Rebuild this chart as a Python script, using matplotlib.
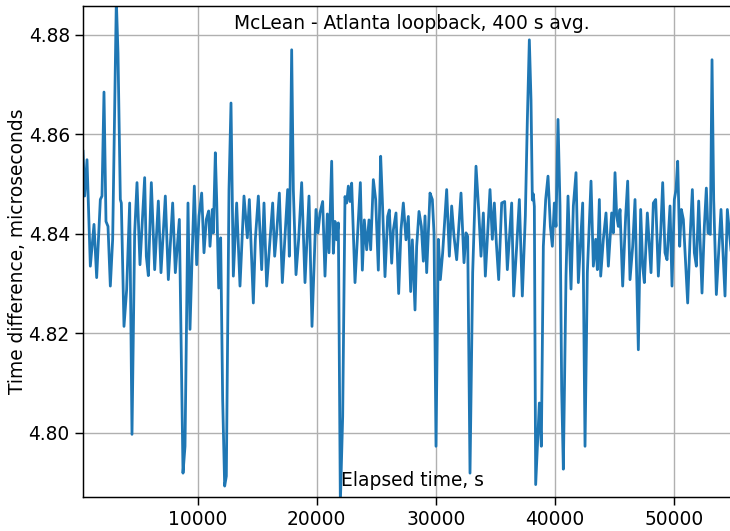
import matplotlib
matplotlib.use("Agg")
import matplotlib.pyplot as plt

# Elapsed time (s) and time difference (microseconds), 400 s averages
elapsed_s = [
    386, 526, 722, 1001, 1309, 1533, 1841, 1980, 2148, 2316,
    2484, 2680, 2876, 3184, 3324, 3520, 3603, 3827, 4051, 4303,
    4499, 4723, 4919, 5170, 5562, 5702, 5870, 6122, 6402, 6710,
    6933, 7297, 7550, 7913, 8137, 8473, 8781, 8949, 9200, 9368,
    9536, 9732, 9928, 10124, 10348, 10543, 10739, 10935, 11047, 11243,
    11327, 11495, 11607, 11775, 11942, 12110, 12278, 12418, 12642, 12810,
    13006, 13285, 13565, 13901, 14181, 14349, 14685, 14853, 15105, 15385,
    15581, 15804, 16084, 16308, 16476, 16644, 16868, 17119, 17371, 17567,
    17707, 17903, 18043, 18267, 18490, 18742, 19022, 19358, 19610, 19945,
    20113, 20281, 20505, 20701, 20898, 21037, 21261, 21401, 21541, 21681,
    21821, 21989, 22185, 22380, 22520, 22660, 22800, 22940, 23220, 23444,
    23668, 23836, 24003, 24199, 24395, 24535, 24759, 24955, 25177, 25374,
    25514, 25738, 25962, 26102, 26298, 26438, 26662, 26885, 27081, 27277,
    27501, 27698, 27893, 28033, 28257, 28397, 28593, 28789, 28957, 29097,
    29236, 29516, 29712, 29852, 30020, 30216, 30384, 30579, 30915, 31139,
    31335, 31531, 31755, 32118, 32370, 32538, 32678, 32874, 33098, 33378,
    33601, 33797, 33993, 34161, 34553, 34749, 34917, 35085, 35281, 35533,
    35785, 36008, 36372, 36540, 36792, 37016, 37266, 37519, 37687, 37855,
    37995, 38107, 38191, 38275, 38387, 38527, 38695, 38862, 39030, 39226,
    39422, 39620, 39786, 39954, 40094, 40261, 40429, 40569, 40709, 40933,
    41101, 41353, 41549, 41773, 41969, 42193, 42333, 42529, 42724, 43032,
    43228, 43424, 43564, 43732, 43844, 44067, 44291, 44487, 44767, 44907,
    45047, 45187, 45327, 45466, 45690, 45942, 46110, 46306, 46530, 46726,
    47005, 47201, 47369, 47509, 47761, 48069, 48265, 48461, 48685, 48881,
    49049, 49245, 49413, 49664, 49832, 50028, 50168, 50308, 50476, 50616,
    50784, 51147, 51343, 51539, 51707, 51875, 52071, 52350, 52546, 52714,
    52854, 53050, 53190, 53330, 53554, 53945, 54113, 54281, 54477, 54701,
    54850,
]

time_diff_us = [
    4.8566, 4.8476, 4.8549, 4.8335, 4.8419, 4.8312, 4.8469, 4.8476, 4.8685, 4.8425,
    4.8415, 4.8295, 4.8389, 4.8870, 4.8763, 4.8469, 4.8462, 4.8214, 4.8288, 4.8462,
    4.7997, 4.8402, 4.8503, 4.8338, 4.8513, 4.8355, 4.8316, 4.8503, 4.8328, 4.8466,
    4.8322, 4.8476, 4.8308, 4.8462, 4.8322, 4.8429, 4.7919, 4.7973, 4.8462, 4.8208,
    4.8348, 4.8496, 4.8338, 4.8436, 4.8482, 4.8362, 4.8429, 4.8446, 4.8375, 4.8449,
    4.8402, 4.8563, 4.8469, 4.8291, 4.8392, 4.8067, 4.7893, 4.7913, 4.8489, 4.8663,
    4.8315, 4.8462, 4.8295, 4.8476, 4.8392, 4.8469, 4.8261, 4.8389, 4.8476, 4.8328,
    4.8462, 4.8295, 4.8389, 4.8462, 4.8355, 4.8402, 4.8482, 4.8302, 4.8409, 4.8489,
    4.8355, 4.8770, 4.8489, 4.8318, 4.8389, 4.8503, 4.8302, 4.8476, 4.8214, 4.8449,
    4.8402, 4.8442, 4.8465, 4.8315, 4.8440, 4.8362, 4.8546, 4.8361, 4.8425, 4.8388,
    4.8422, 4.7859, 4.8033, 4.8475, 4.8462, 4.8496, 4.8465, 4.8502, 4.8302, 4.8402,
    4.8503, 4.8327, 4.8428, 4.8368, 4.8428, 4.8368, 4.8509, 4.8469, 4.8327, 4.8556,
    4.8469, 4.8314, 4.8435, 4.8448, 4.8341, 4.8408, 4.8442, 4.8280, 4.8408, 4.8462,
    4.8388, 4.8435, 4.8284, 4.8388, 4.8247, 4.8375, 4.8445, 4.8415, 4.8345, 4.8436,
    4.8322, 4.8482, 4.8469, 4.8402, 4.7973, 4.8389, 4.8308, 4.8362, 4.8489, 4.8355,
    4.8456, 4.8395, 4.8348, 4.8482, 4.8342, 4.8402, 4.8395, 4.7919, 4.8322, 4.8536,
    4.8449, 4.8355, 4.8442, 4.8315, 4.8489, 4.8389, 4.8462, 4.8382, 4.8308, 4.8462,
    4.8465, 4.8328, 4.8462, 4.8275, 4.8375, 4.8469, 4.8275, 4.8436, 4.8629, 4.8790,
    4.8669, 4.8468, 4.8480, 4.8455, 4.7896, 4.7970, 4.8060, 4.7973, 4.8375, 4.8469,
    4.8516, 4.8415, 4.8375, 4.8462, 4.8415, 4.8630, 4.8456, 4.8087, 4.7927, 4.8315,
    4.8476, 4.8289, 4.8456, 4.8523, 4.8302, 4.8402, 4.8462, 4.7973, 4.8322, 4.8506,
    4.8335, 4.8389, 4.8328, 4.8469, 4.8315, 4.8389, 4.8442, 4.8335, 4.8442, 4.8402,
    4.8523, 4.8436, 4.8415, 4.8449, 4.8295, 4.8436, 4.8506, 4.8308, 4.8375, 4.8469,
    4.8167, 4.8449, 4.8335, 4.8302, 4.8442, 4.8322, 4.8462, 4.8469, 4.8315, 4.8402,
    4.8503, 4.8362, 4.8348, 4.8456, 4.8295, 4.8469, 4.8489, 4.8546, 4.8375, 4.8449,
    4.8429, 4.8261, 4.8389, 4.8489, 4.8362, 4.8335, 4.8466, 4.8281, 4.8415, 4.8492,
    4.8402, 4.8399, 4.8750, 4.8469, 4.8278, 4.8449, 4.8362, 4.8275, 4.8449, 4.8389,
    4.8350,
]

x_ticks = [10000, 20000, 30000, 40000, 50000]
y_ticks = [4.80, 4.82, 4.84, 4.86, 4.88]

fig = plt.figure(figsize=(7.30, 5.31), dpi=100)
ax = fig.add_axes([0.1137, 0.064, 0.9014, 0.9247])

ax.plot(elapsed_s, time_diff_us, color="#1f77b4", linewidth=2.0)

ax.set_xlim(386, 55625)
ax.set_ylim(4.7871, 4.8858)
ax.set_xticks(x_ticks)
ax.set_yticks(y_ticks)
ax.set_yticklabels([f"{v:.2f}" for v in y_ticks])
ax.grid(True, color="#b0b0b0", linewidth=1.0)

for sp in ax.spines.values():
    sp.set_linewidth(1.05)
ax.tick_params(labelsize=13.4, length=6, width=1.05)

ax.text(0.5, 0.965, "McLean - Atlanta loopback, 400 s avg.",
        transform=ax.transAxes, ha="center", va="center", fontsize=13.4)
ax.text(0.5, 0.033, "Elapsed time, s",
        transform=ax.transAxes, ha="center", va="center", fontsize=13.4)
fig.text(18 / 730, 1 - 251 / 531, "Time difference, microseconds",
         rotation=90, ha="center", va="center", fontsize=13.4)

fig.savefig("out.png", dpi=100)
